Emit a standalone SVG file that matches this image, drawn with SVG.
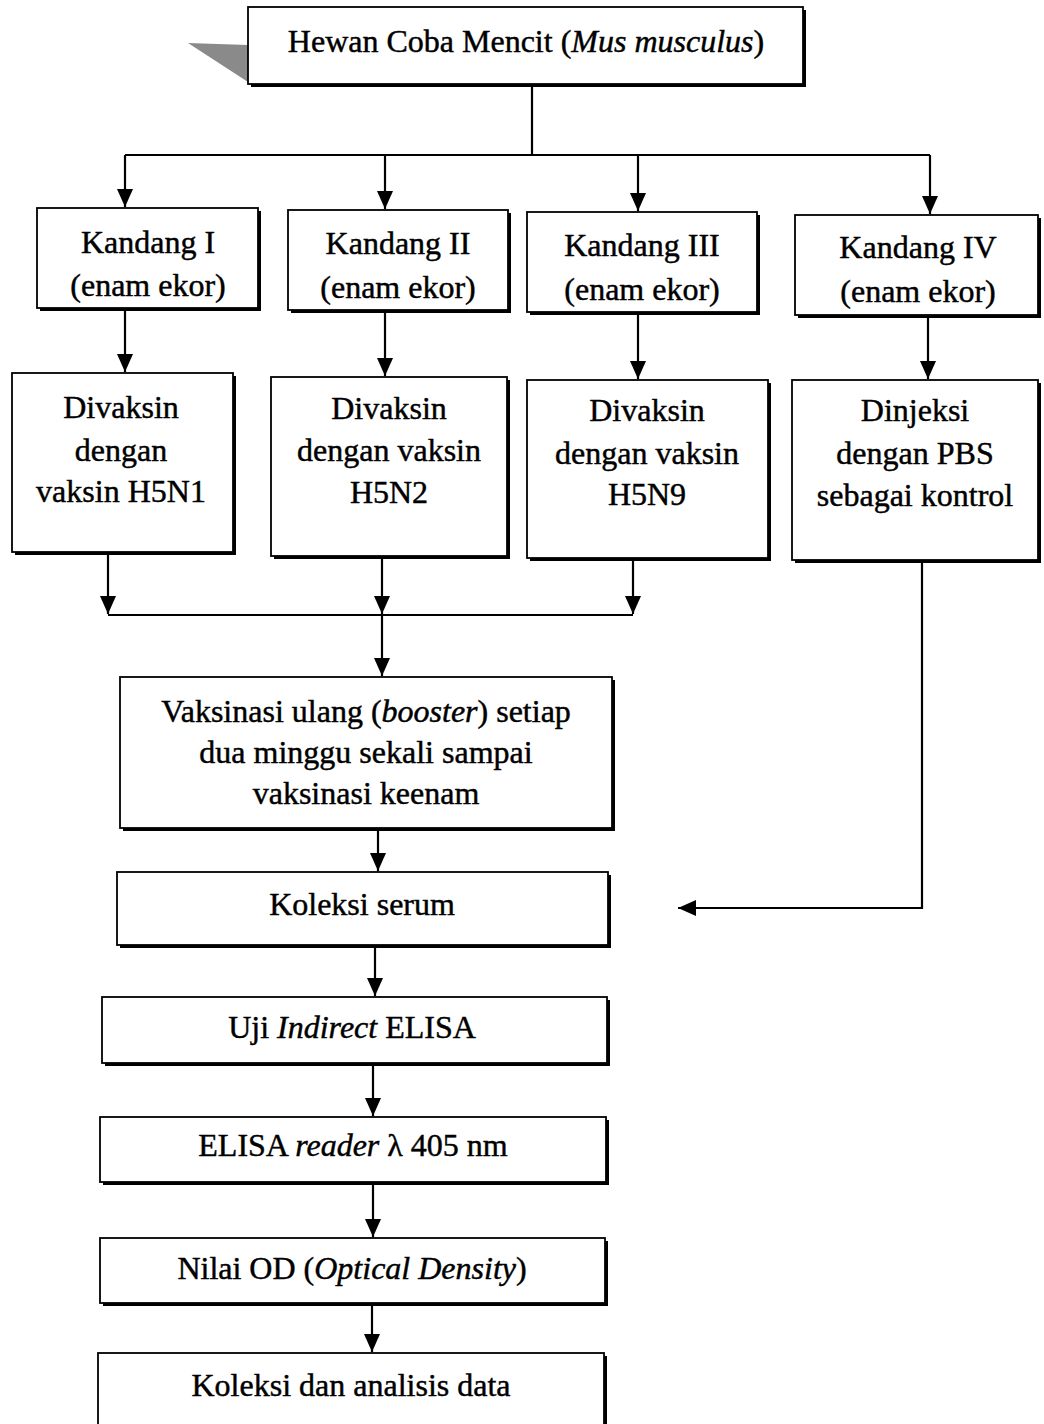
<svg xmlns="http://www.w3.org/2000/svg" width="1044" height="1424" viewBox="0 0 1044 1424">
<defs>
<style>
.box{fill:#fff;stroke:#000;stroke-width:1.8}
.sh{fill:#000}
.t{font-family:"Liberation Serif","Times New Roman",serif;font-size:32px;fill:#000;stroke:#000;stroke-width:0.45;text-anchor:middle}
.ln{fill:none;stroke:#000;stroke-width:2.2}
</style>
<marker id="ah" markerUnits="userSpaceOnUse" markerWidth="18" markerHeight="18" refX="18" refY="8" orient="auto">
<path d="M0,0 L18,8 L0,16 Z" fill="#000"/>
</marker>
</defs>
<rect width="1044" height="1424" fill="#fff"/>
<polygon points="188,43 248,45 248,82" fill="#8a8a8a"/>

<g id="connectors">
<path class="ln" d="M532,84 V155 M125,155 H930"/>
<path class="ln" d="M125,155 V207" marker-end="url(#ah)"/>
<path class="ln" d="M385,155 V209" marker-end="url(#ah)"/>
<path class="ln" d="M638,155 V211" marker-end="url(#ah)"/>
<path class="ln" d="M930,155 V214" marker-end="url(#ah)"/>
<path class="ln" d="M125,308 V372" marker-end="url(#ah)"/>
<path class="ln" d="M385,310 V376" marker-end="url(#ah)"/>
<path class="ln" d="M638,312 V379" marker-end="url(#ah)"/>
<path class="ln" d="M928,315 V379" marker-end="url(#ah)"/>
<path class="ln" d="M108,615 H633"/>
<path class="ln" d="M108,552 V614" marker-end="url(#ah)"/>
<path class="ln" d="M382,556 V614" marker-end="url(#ah)"/>
<path class="ln" d="M633,558 V614" marker-end="url(#ah)"/>
<path class="ln" d="M382,615 V676" marker-end="url(#ah)"/>
<path class="ln" d="M378,828 V871" marker-end="url(#ah)"/>
<path class="ln" d="M922,560 V908 H678" marker-end="url(#ah)"/>
<path class="ln" d="M375,945 V996" marker-end="url(#ah)"/>
<path class="ln" d="M373,1063 V1116" marker-end="url(#ah)"/>
<path class="ln" d="M373,1182 V1237" marker-end="url(#ah)"/>
<path class="ln" d="M372,1303 V1352" marker-end="url(#ah)"/>
</g>

<g id="n-mencit">
<rect class="sh" x="251" y="10" width="555" height="77"/>
<rect class="box" x="248" y="7" width="555" height="77"/>
<text class="t" x="526" y="52" font-size="31">Hewan Coba Mencit (<tspan font-style="italic">Mus musculus</tspan>)</text>
</g>

<g id="n-k1">
<rect class="sh" x="40" y="211" width="221" height="100"/>
<rect class="box" x="37" y="208" width="221" height="100"/>
<text class="t" x="148" y="253">Kandang I</text>
<text class="t" x="148" y="296">(enam ekor)</text>
</g>
<g id="n-k2">
<rect class="sh" x="291" y="213" width="220" height="100"/>
<rect class="box" x="288" y="210" width="220" height="100"/>
<text class="t" x="398" y="254">Kandang II</text>
<text class="t" x="398" y="298">(enam ekor)</text>
</g>
<g id="n-k3">
<rect class="sh" x="530" y="215" width="230" height="100"/>
<rect class="box" x="527" y="212" width="230" height="100"/>
<text class="t" x="642" y="256">Kandang III</text>
<text class="t" x="642" y="300">(enam ekor)</text>
</g>
<g id="n-k4">
<rect class="sh" x="798" y="218" width="243" height="100"/>
<rect class="box" x="795" y="215" width="243" height="100"/>
<text class="t" x="918" y="258">Kandang IV</text>
<text class="t" x="918" y="302">(enam ekor)</text>
</g>

<g id="n-v1">
<rect class="sh" x="15" y="376" width="221" height="179"/>
<rect class="box" x="12" y="373" width="221" height="179"/>
<text class="t" x="121" y="418">Divaksin</text>
<text class="t" x="121" y="461">dengan</text>
<text class="t" x="121" y="502">vaksin H5N1</text>
</g>
<g id="n-v2">
<rect class="sh" x="274" y="380" width="236" height="179"/>
<rect class="box" x="271" y="377" width="236" height="179"/>
<text class="t" x="389" y="419">Divaksin</text>
<text class="t" x="389" y="461">dengan vaksin</text>
<text class="t" x="389" y="503">H5N2</text>
</g>
<g id="n-v3">
<rect class="sh" x="530" y="383" width="241" height="178"/>
<rect class="box" x="527" y="380" width="241" height="178"/>
<text class="t" x="647" y="421">Divaksin</text>
<text class="t" x="647" y="464">dengan vaksin</text>
<text class="t" x="647" y="505">H5N9</text>
</g>
<g id="n-v4">
<rect class="sh" x="795" y="383" width="246" height="180"/>
<rect class="box" x="792" y="380" width="246" height="180"/>
<text class="t" x="915" y="421">Dinjeksi</text>
<text class="t" x="915" y="464">dengan PBS</text>
<text class="t" x="915" y="506">sebagai kontrol</text>
</g>

<g id="n-booster">
<rect class="sh" x="123" y="680" width="492" height="151"/>
<rect class="box" x="120" y="677" width="492" height="151"/>
<text class="t" x="366" y="722">Vaksinasi ulang (<tspan font-style="italic">booster</tspan>) setiap</text>
<text class="t" x="366" y="763">dua minggu sekali sampai</text>
<text class="t" x="366" y="804">vaksinasi keenam</text>
</g>

<g id="n-serum">
<rect class="sh" x="120" y="875" width="491" height="73"/>
<rect class="box" x="117" y="872" width="491" height="73"/>
<text class="t" x="362" y="915">Koleksi serum</text>
</g>

<g id="n-elisa">
<rect class="sh" x="105" y="1000" width="505" height="66"/>
<rect class="box" x="102" y="997" width="505" height="66"/>
<text class="t" x="352" y="1038">Uji <tspan font-style="italic">Indirect</tspan> ELISA</text>
</g>

<g id="n-reader">
<rect class="sh" x="103" y="1120" width="506" height="65"/>
<rect class="box" x="100" y="1117" width="506" height="65"/>
<text class="t" x="353" y="1156">ELISA <tspan font-style="italic">reader</tspan> λ 405 nm</text>
</g>

<g id="n-od">
<rect class="sh" x="103" y="1241" width="505" height="65"/>
<rect class="box" x="100" y="1238" width="505" height="65"/>
<text class="t" x="352" y="1279">Nilai OD (<tspan font-style="italic">Optical Density</tspan>)</text>
</g>

<g id="n-data">
<rect class="sh" x="101" y="1356" width="506" height="80"/>
<rect class="box" x="98" y="1353" width="506" height="80"/>
<text class="t" x="351" y="1396">Koleksi dan analisis data</text>
</g>
</svg>
